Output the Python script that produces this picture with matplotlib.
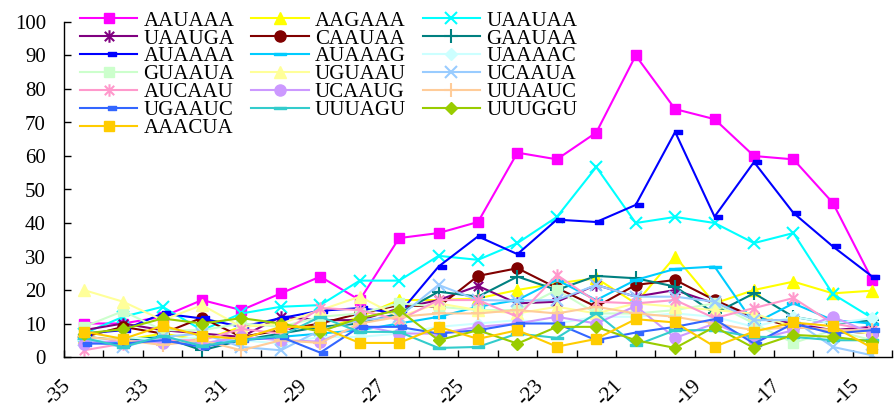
import matplotlib.pyplot as plt
from matplotlib.path import Path
from matplotlib.transforms import ScaledTranslation

plt.rcParams['font.family'] = ['Liberation Serif', 'DejaVu Serif']

# 位置 -35 ... -15
positions = list(range(-35, -14))
tick_labels = [str(p) for p in positions]

AAUAAA = [10, 10, 12, 17, 14, 19, 24, 17, 35.5, 37, 40.3, 61, 59, 67, 90, 74, 71, 60, 59, 46, 23]
AAGAAA = [6, 5, 7, 5, 9, 10, 8, 12, 17, 17, 17.5, 20, 22, 23.5, 16, 30, 16, 20, 22.5, 19, 19.8]
UAAUAA = [7, 12, 15, 8, 13, 15, 15.5, 22.8, 22.8, 30.2, 29, 34, 41.8, 56.7, 40, 41.8, 40, 34, 37, 18.8, 11.6]
UAAUGA = [8, 10, 8, 7, 6, 12, 11, 11, 14.5, 17, 21.2, 16, 16.5, 21.5, 18, 20, 16, 12, 10, 8, 9]
CAAUAA = [6, 9, 7, 11.7, 6, 8, 10, 13, 15.5, 15, 24.2, 26.5, 20.6, 15, 21.5, 23, 17, 12, 9, 8, 7]
GAAUAA = [6, 5, 6, 2, 5, 7, 9, 10, 13, 19.5, 18, 24, 20, 24.2, 23.5, 21, 13, 19, 12, 10, 11]
AUAAAA = [7, 8, 13, 11.5, 9, 11.6, 13.8, 14.6, 13, 27, 36, 30.7, 41, 40.3, 45.4, 67.2, 41.9, 58.2, 43, 33, 24]
AUAAAG = [5, 4, 6, 4, 5, 6, 7, 8, 10, 12, 15, 17, 23, 17, 23, 26.3, 27, 10, 16, 11, 10]
UAAAAC = [5, 6, 5, 6, 5, 4, 6, 6, 7, 9, 10, 11, 10, 12, 12, 13, 12, 9, 12, 10, 11.6]
GUAAUA = [9, 13.7, 8, 8, 10, 9, 12, 13, 16, 15, 14, 14, 20, 13, 13, 14, 16, 10, 4.2, 8, 5]
UGUAAU = [20, 16.5, 11, 15.5, 9, 10, 14, 18, 12, 16, 14, 13, 15, 13, 16, 15, 14, 13, 9, 8, 7]
UCAAUA = [5, 3, 6, 7, 3, 2, 8, 11, 12, 21.5, 17, 16.8, 17, 21.5, 18, 18, 16.5, 11, 11, 3, 0.5]
AUCAAU = [2, 4, 5, 5, 8.4, 7, 14.6, 14, 11, 17, 17, 12, 24.5, 16.5, 16, 17, 11.6, 14.6, 17.6, 10, 8]
UCAAUG = [4, 5, 4.3, 4, 6, 5, 4.6, 9.6, 7, 7, 9, 10, 12, 10, 15.2, 5.7, 10, 5, 8, 12, 7]
UUAAUC = [6, 5, 3.6, 5, 2, 5, 4.2, 10, 12, 13, 13, 14, 13, 15, 13, 12, 10, 8, 9, 8, 8]
UGAAUC = [4, 4, 5, 3, 5, 6, 1.3, 9, 9, 7, 8, 10, 10, 5, 7.3, 9, 11.3, 4, 10, 7, 8]
UUUAGU = [5.7, 3, 6.3, 3.3, 5, 6.3, 12, 7.5, 7.5, 2.7, 3, 7, 5.7, 13, 3.5, 8, 8, 6, 6, 5, 5]
UUUGGU = [7, 8.3, 11.5, 10, 11.6, 10, 7.6, 11.6, 14, 5, 8, 4, 9, 9, 5, 2.7, 9, 2.7, 6.6, 6, 4.6]
AAACUA = [7.6, 5.4, 9.3, 6.3, 5.4, 9, 9, 4.2, 4.2, 9, 5.4, 8, 3.1, 5.4, 11.3, 10.3, 3.1, 7.6, 10.3, 9.2, 2.7]

names = ['AAUAAA', 'AAGAAA', 'UAAUAA', 'UAAUGA', 'CAAUAA', 'GAAUAA', 'AUAAAA',
         'AUAAAG', 'UAAAAC', 'GUAAUA', 'UGUAAU', 'UCAAUA', 'AUCAAU', 'UCAAUG',
         'UUAAUC', 'UGAAUC', 'UUUAGU', 'UUUGGU', 'AAACUA']
values = [AAUAAA, AAGAAA, UAAUAA, UAAUGA, CAAUAA, GAAUAA, AUAAAA,
          AUAAAG, UAAAAC, GUAAUA, UGUAAU, UCAAUA, AUCAAU, UCAAUG,
          UUAAUC, UGAAUC, UUUAGU, UUUGGU, AAACUA]

# Excel风格的标记
M, L = Path.MOVETO, Path.LINETO
asterisk = Path([(0, -1), (0, 1), (-0.75, -0.75), (0.75, 0.75), (-0.75, 0.75), (0.75, -0.75)],
                [M, L, M, L, M, L])
short_dash = Path([(-0.1, -0.22), (1, -0.22), (1, 0.22), (-0.1, 0.22), (-0.1, -0.22)],
                  [M, L, L, L, Path.CLOSEPOLY])
long_dash = Path([(-1, -0.2), (1, -0.2), (1, 0.2), (-1, 0.2), (-1, -0.2)],
                 [M, L, L, L, Path.CLOSEPOLY])

styles = [
    ('#FF00FF', 's', 7.5), ('#FFFF00', '^', 8.5), ('#00FFFF', 'x', 9),
    ('#800080', asterisk, 9), ('#800000', 'o', 8), ('#008080', '+', 10),
    ('#0000FF', short_dash, 10.5), ('#00CCFF', long_dash, 8.5), ('#CCFFFF', 'D', 6.5),
    ('#CCFFCC', 's', 7.5), ('#FFFF99', '^', 8.5), ('#99CCFF', 'x', 9),
    ('#FF99CC', asterisk, 9), ('#CC99FF', 'o', 8), ('#FFCC99', '+', 10),
    ('#3366FF', short_dash, 10.5), ('#33CCCC', long_dash, 8.5), ('#99CC00', 'D', 6.5),
    ('#FFCC00', 's', 7.5),
]

fig = plt.figure(figsize=(8.95, 4.11), dpi=100)
ax = fig.add_axes([64 / 895, 1 - 357 / 411, (892 - 64) / 895, (357 - 22) / 411])

x = list(range(len(positions)))
handles = []
for name, v, (c, m, ms) in zip(names, values, styles):
    line_marker = m in ('x', '+') or m is asterisk
    h, = ax.plot(x, v, color=c, lw=1.5, marker=m, ms=ms,
                 mfc='none' if line_marker else c, mec=c,
                 mew=1.5 if line_marker else 1, label=name)
    handles.append(h)

ax.set_xlim(-0.5, len(positions) - 0.5)
ax.set_ylim(0, 100)
ax.set_yticks(range(0, 101, 10))
ax.tick_params(axis='y', direction='in', length=5, width=1, pad=13, labelsize=15)

# 刻度线在类别之间，标签隔一个显示
ax.set_xticks([i - 0.5 for i in range(len(positions) + 1)])
ax.set_xticklabels([])
ax.tick_params(axis='x', which='major', direction='in', length=5, width=1)
ax.set_xticks(x[::2], minor=True)
ax.set_xticklabels(tick_labels[::2], minor=True, rotation=45, ha='right', va='center',
                   rotation_mode='anchor', fontsize=15)
ax.tick_params(axis='x', which='minor', length=0, pad=19)
offset = ScaledTranslation(-16 / 100, 0, fig.dpi_scale_trans)
for lab in ax.get_xticklabels(minor=True):
    lab.set_transform(lab.get_transform() + offset)

for s in ('top', 'right'):
    ax.spines[s].set_visible(False)
for s in ('left', 'bottom'):
    ax.spines[s].set_linewidth(1)

order = [0, 3, 6, 9, 12, 15, 18, 1, 4, 7, 10, 13, 16, 2, 5, 8, 11, 14, 17]
ax.legend([handles[i] for i in order], [names[i] for i in order], ncol=3,
          loc='upper left', bbox_to_anchor=(80 / 895, 1 - 11 / 411),
          bbox_transform=fig.transFigure, frameon=False, fontsize=15,
          handlelength=2.75, handletextpad=0.3, columnspacing=0.8,
          labelspacing=-0.08, borderpad=0, borderaxespad=0)

plt.savefig('out.png', dpi=100)
